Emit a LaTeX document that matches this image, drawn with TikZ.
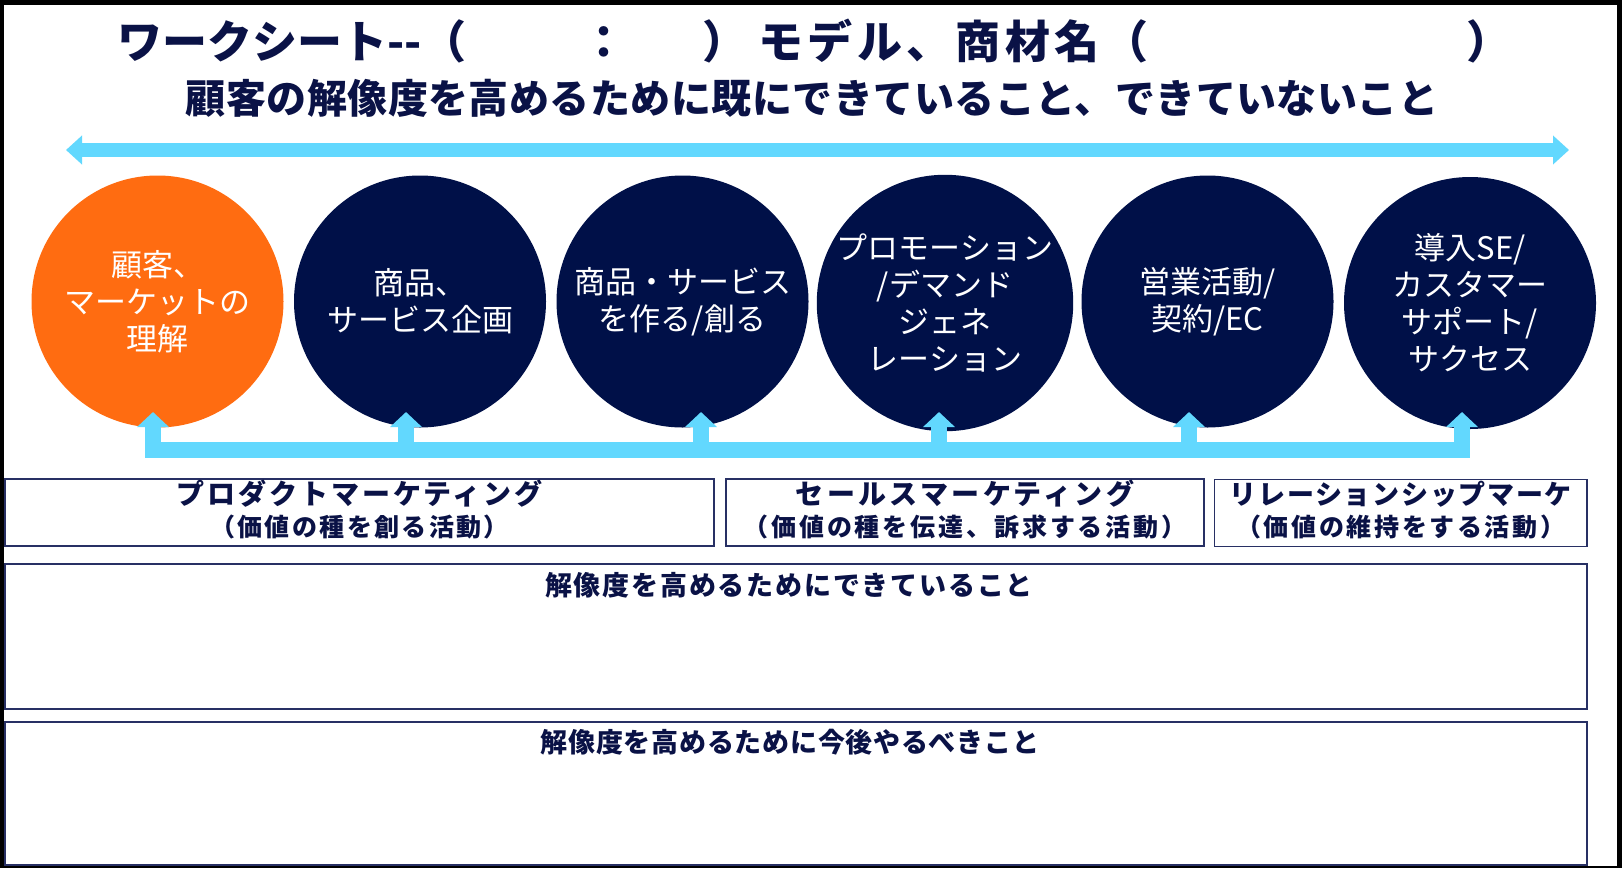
\documentclass[tikz,border=0pt]{standalone}
\usepackage{fontspec}
\setmainfont{Noto Sans CJK JP}
\usetikzlibrary{arrows.meta}
\definecolor{navy}{RGB}{0,16,72}
\definecolor{inkblue}{RGB}{10,18,70}
\definecolor{orng}{RGB}{255,108,17}
\definecolor{sky}{RGB}{98,216,254}
\definecolor{boxline}{RGB}{40,48,100}
\tikzset{
  disc/.style={circle, minimum size=252pt, inner sep=0pt, text=white, align=center,
    font=\fontsize{31}{37}\selectfont},
  conn/.style={draw=sky, line width=16pt, line join=miter},
  uptip/.style={-{Triangle[width=31pt,length=15pt]}},
  panel/.style={draw=boxline, line width=1.5pt, inner sep=0pt},
  headtxt/.style={text=inkblue, inner sep=0pt, align=center},
}
\newcommand{\bsz}[3]{\bfseries\fontsize{#1}{#2}\selectfont\addfontfeature{LetterSpace=#3}}
\begin{document}
\begin{tikzpicture}[x=1pt,y=-1pt]
\useasboundingbox (0,0) rectangle (1622,868);
\fill[black] (0,0) rectangle (1622,868);
\fill[white] (4,5) rectangle (1617,866);

% titles
\node[headtxt, anchor=west, font=\bfseries\fontsize{45}{50}\selectfont] (t1) at (117,41)
  {ワークシート{-}{-}（\hspace{115pt}：\hspace{76pt}{\addfontfeature{LetterSpace=9.5}）\hspace{11pt}モデル、商材名（}\hspace{318pt}）};
\node[headtxt, font=\bsz{40}{44}{1.2}] (t2) at (812,98)
  {顧客の解像度を高めるために既にできていること、できていないこと};

% top double arrow
\coordinate (aL) at (66,150);
\coordinate (aR) at (1569,150);
\draw[draw=sky, line width=14pt, {Triangle[width=28pt,length=16pt]}-{Triangle[width=28pt,length=16pt]}] (aL) -- (aR);

% circles
\node[disc, fill=orng] (c1) at (157.5,301.5) {顧客、\\マーケットの\\理解};
\node[disc, fill=navy] (c2) at (420,301.5) {商品、\\サービス企画};
\node[disc, fill=navy] (c3) at (682.5,301.5) {商品・サービス\\を作る/創る};
\node[disc, fill=navy] (c4) at (945,303) {プロモーション\\/デマンド\\ジェネ\\レーション};
\node[disc, fill=navy] (c5) at (1207.5,301.5) {営業活動/\\契約/EC};
\node[disc, fill=navy] (c6) at (1470,303) {導入SE/\\カスタマー\\サポート/\\サクセス};

% bracket connector
\coordinate (u1) at (153,412);  \coordinate (k1) at (153,450);
\coordinate (u2) at (406,412);  \coordinate (k2) at (406,450);
\coordinate (u3) at (701,412);  \coordinate (k3) at (701,450);
\coordinate (u4) at (939,412);  \coordinate (k4) at (939,450);
\coordinate (u5) at (1189,412); \coordinate (k5) at (1189,450);
\coordinate (u6) at (1462,412); \coordinate (k6) at (1462,450);
\draw[conn, {Triangle[width=31pt,length=15pt]}-{Triangle[width=31pt,length=15pt]}] (u1) -- (k1) -- (k6) -- (u6);
\draw[conn, uptip] (k2) -- (u2);
\draw[conn, uptip] (k3) -- (u3);
\draw[conn, uptip] (k4) -- (u4);
\draw[conn, uptip] (k5) -- (u5);

% category boxes
\node[panel, minimum width=709pt, minimum height=67pt] (bA) at (359.5,512.5) {};
\node[panel, minimum width=478pt, minimum height=67pt] (bB) at (965,512.5) {};
\node[panel, minimum width=372.5pt, minimum height=67pt] (bC) at (1400.75,513) {};
\node[headtxt, font=\bsz{28}{33}{10.7}] (tA1) at (359.5,494) {プロダクトマーケティング};
\node[headtxt, font=\bsz{25}{30}{9.5}] (tA2) at (359.5,527) {（価値の種を創る活動）};
\node[headtxt, font=\bsz{28}{33}{12}] (tB1) at (965,494) {セールスマーケティング};
\node[headtxt, font=\bsz{25}{30}{11.5}] (tB2) at (965,527) {（価値の種を伝達、訴求する活動）};
\node[headtxt, font=\bsz{27}{33}{6.3}] (tC1) at (1400.75,494) {リレーションシップマーケ};
\node[headtxt, font=\bsz{25}{30}{10.5}] (tC2) at (1400.75,527) {（価値の維持をする活動）};

% large boxes
\node[panel, minimum width=1582pt, minimum height=145pt] (bD) at (796,636.5) {};
\node[headtxt, font=\bsz{27}{32}{6.7}] (tD) at (789,585) {解像度を高めるためにできていること};
\node[panel, minimum width=1582pt, minimum height=143pt] (bE) at (796,793.5) {};
\node[headtxt, font=\bsz{27}{32}{2.7}] (tE) at (790,742) {解像度を高めるために今後やるべきこと};
\end{tikzpicture}
\end{document}
